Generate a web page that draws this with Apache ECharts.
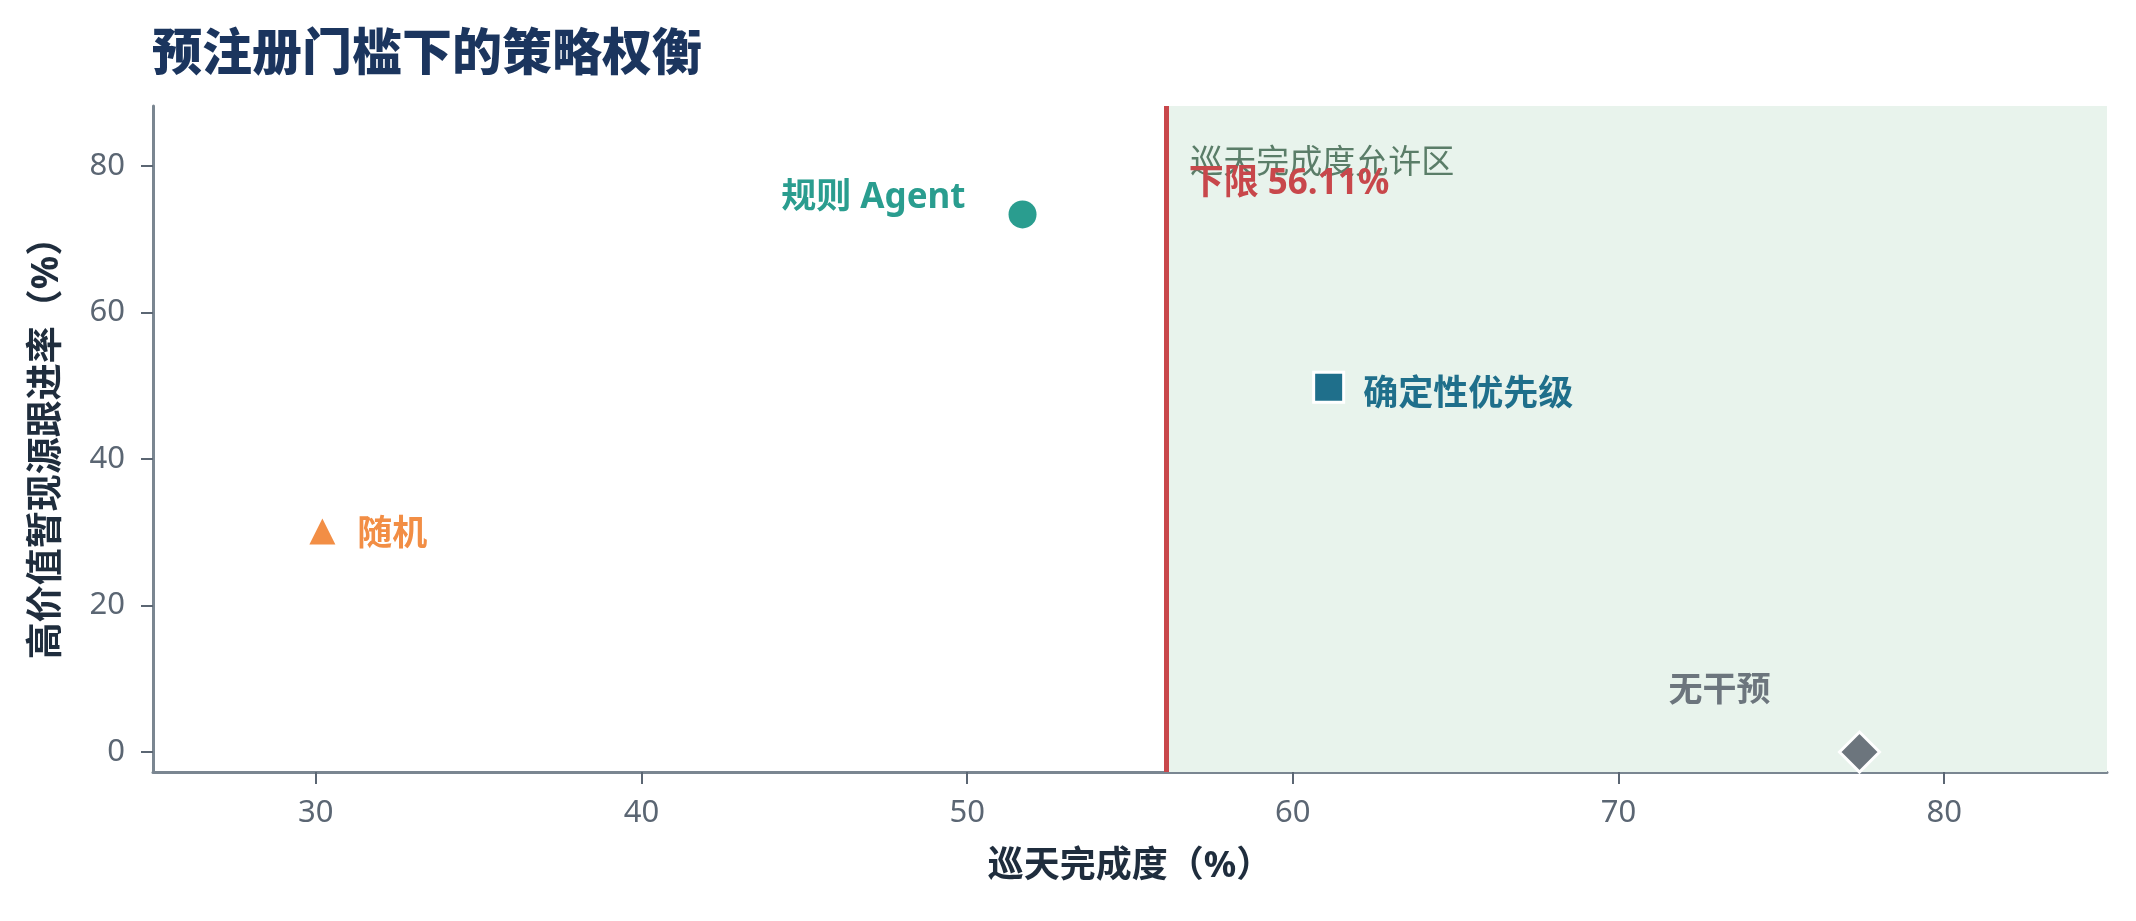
<!DOCTYPE html>
<html>
<head>
<meta charset="utf-8">
<script src="https://cdn.jsdelivr.net/npm/echarts@6/dist/echarts.min.js"></script>
<style>
  html, body { margin: 0; padding: 0; background: #fff; }
  #chart { width: 2136px; height: 921px; }
</style>
</head>
<body>
<div id="chart"></div>
<script>
// strategy points: survey completion (%) vs high-value transient follow-up (%)
var strategies = ['规则 Agent', '确定性优先级', '随机', '无干预']
var completion = [51.7, 61.1, 30.2, 77.4]
var followUp = [73.4, 49.8, 30.1, 0]
var threshold = 56.11 // pre-registered lower bound
var xTicks = [30, 40, 50, 60, 70, 80]
var yTicks = [0, 20, 40, 60, 80]

var FONT = '"Noto Sans", "Noto Sans CJK SC", sans-serif'
var colors = ['#2a9d8f', '#1f6f8b', '#f28e45', '#6c757d']
var symbols = ['circle', 'rect', 'triangle', 'diamond']
var sizes = [28, 30, 26, 40]
var labelPos = [
  { position: 'left', distance: 43, offset: [0, -16], size: 35 },
  { position: 'right', distance: 18, offset: [0, 8], size: 35 },
  { position: 'right', distance: 22, offset: [0, 3], size: 35 },
  { position: 'top', distance: 22, offset: [-140, 0], size: 34 }
]

var series = strategies.map(function (name, i) {
  return {
    name: name,
    type: 'scatter',
    clip: false,
    symbol: symbols[i],
    symbolSize: sizes[i],
    data: [[completion[i], followUp[i]]],
    itemStyle: {
      color: colors[i],
      opacity: 1,
      borderColor: '#fff',
      borderWidth: i == 0 || i == 2 ? 0 : 3
    },
    label: {
      show: true,
      formatter: name,
      position: labelPos[i].position,
      distance: labelPos[i].distance,
      offset: labelPos[i].offset,
      color: colors[i],
      fontWeight: 'bold',
      fontSize: labelPos[i].size,
      fontFamily: FONT
    },
    z: 5
  }
})

// allowed zone + threshold line live on a helper series
series.unshift({
  type: 'scatter',
  data: [],
  silent: true,
  markArea: {
    silent: true,
    itemStyle: { color: '#e8f3ec' },
    label: {
      show: true,
      position: 'insideTopLeft',
      offset: [19, 36],
      color: '#5a7d68',
      fontSize: 33,
      fontFamily: FONT
    },
    data: [[{ name: '巡天完成度允许区', xAxis: threshold }, { xAxis: 85 }]]
  },
  markLine: {
    silent: true,
    symbol: 'none',
    lineStyle: { color: '#c8474b', width: 5, type: 'solid' },
    label: { show: false },
    data: [{ xAxis: threshold }]
  },
  markPoint: {
    silent: true,
    symbol: 'rect',
    symbolSize: 1,
    itemStyle: { color: 'transparent' },
    label: {
      show: true,
      position: 'right',
      distance: 22,
      offset: [0, 78],
      formatter: '下限 ' + threshold.toFixed(2) + '%',
      color: '#c8474b',
      fontWeight: 'bold',
      fontSize: 35,
      fontFamily: FONT
    },
    data: [{ coord: [threshold, 88.2] }]
  },
  z: 3
})

var option = {
  animation: false,
  backgroundColor: '#fff',
  title: {
    text: '预注册门槛下的策略权衡',
    left: 147,
    top: 26,
    textStyle: { color: '#1b355e', fontSize: 50, fontWeight: 900, fontFamily: FONT }
  },
  grid: { left: 153, right: 29, top: 106, bottom: 149, containLabel: false },
  xAxis: {
    type: 'value',
    min: 25,
    max: 85,
    name: '巡天完成度（%）',
    nameLocation: 'middle',
    nameGap: 77,
    nameTextStyle: { color: '#1f2d3d', fontSize: 36, fontWeight: 'bold', fontFamily: FONT },
    splitLine: { show: false },
    axisLine: { onZero: false, lineStyle: { color: '#7a8691', width: 3 } },
    axisTick: { show: true, length: 12, customValues: xTicks, lineStyle: { color: '#5b6673', width: 2 } },
    axisLabel: { customValues: xTicks, color: '#5b6673', fontSize: 31, margin: 26, fontFamily: FONT }
  },
  yAxis: {
    type: 'value',
    min: -2.73,
    max: 88.2,
    name: '高价值暂现源跟进率（%）',
    nameLocation: 'middle',
    nameRotate: 90,
    nameGap: 87,
    nameTextStyle: { color: '#1f2d3d', fontSize: 37, fontWeight: 'bold', fontFamily: FONT },
    splitLine: { show: false },
    axisLine: { show: true, onZero: false, lineStyle: { color: '#7a8691', width: 3 } },
    axisTick: { show: true, length: 12, customValues: yTicks, lineStyle: { color: '#5b6673', width: 2 } },
    axisLabel: { customValues: yTicks, color: '#5b6673', fontSize: 31, margin: 28, fontFamily: FONT }
  },
  series: series
}

var chart = echarts.init(document.getElementById('chart'), null, { renderer: 'canvas' })
chart.setOption(option)
</script>
</body>
</html>
